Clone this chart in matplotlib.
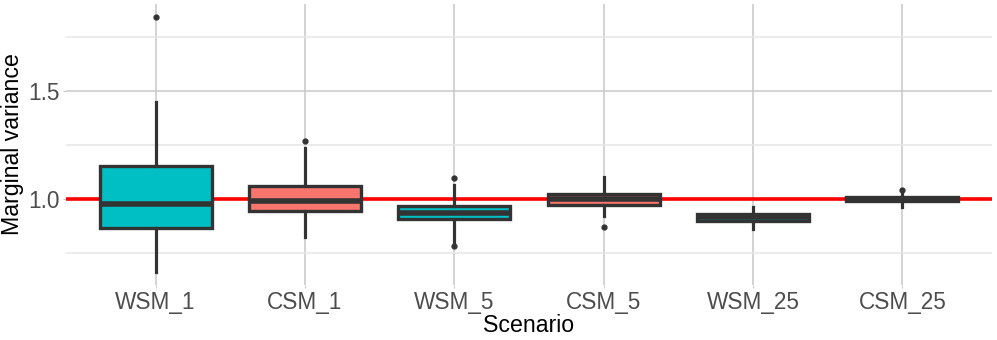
import numpy as np
import matplotlib.pyplot as plt

plt.rcParams['font.family'] = ['Liberation Sans', 'DejaVu Sans']

# values
scenarios = ['WSM_1', 'CSM_1', 'WSM_5', 'CSM_5', 'WSM_25', 'CSM_25']
q1 = [0.868, 0.947, 0.907, 0.975, 0.899, 0.990]
med = [0.977, 0.990, 0.935, 1.000, 0.917, 1.000]
q3 = [1.155, 1.062, 0.970, 1.025, 0.931, 1.008]
whislo = [0.662, 0.824, 0.800, 0.923, 0.862, 0.965]
whishi = [1.449, 1.236, 1.066, 1.103, 0.965, 1.026]
fliers = [[1.843], [1.268], [1.097, 0.784], [0.869], [], [1.042]]
fills = ['#00BFC4', '#F8766D', '#00BFC4', '#F8766D', '#00BFC4', '#F8766D']

stats = []
for i in range(len(scenarios)):
    stats.append(dict(med=med[i], q1=q1[i], q3=q3[i], whislo=whislo[i],
                      whishi=whishi[i], fliers=fliers[i], label=scenarios[i]))

fig = plt.figure(figsize=(9.97, 3.40), dpi=100)
ax = fig.add_axes([0.0662, 0.1618, 0.9288, 0.8262])

edge = '#333333'
ax.axhline(1.0, color='red', lw=2.6, zorder=2)
bp = ax.bxp(stats, positions=np.arange(1, 7), widths=0.75, patch_artist=True,
            showcaps=False,
            boxprops=dict(edgecolor=edge, linewidth=2.4),
            whiskerprops=dict(color=edge, linewidth=2.3),
            medianprops=dict(color=edge, linewidth=4.0, solid_capstyle='butt'),
            flierprops=dict(marker='o', markersize=3.5, markerfacecolor=edge,
                            markeredgecolor=edge),
            zorder=3)
for patch, c in zip(bp['boxes'], fills):
    patch.set_facecolor(c)

ax.set_xlim(0.4, 6.6)
ax.set_ylim(0.603, 1.902)
ax.set_yticks([1.0, 1.5])
ax.set_yticklabels(['1.0', '1.5'])
ax.set_yticks([0.75, 1.25, 1.75], minor=True)
ax.set_xticks(np.arange(1, 7))
ax.set_xticklabels(scenarios)

ax.grid(which='major', color='#c8c8c8', lw=1.1, zorder=0)
ax.grid(which='minor', axis='y', color='#e6e6e6', lw=1.1, zorder=0)
ax.set_axisbelow(True)
for s in ax.spines.values():
    s.set_visible(False)
ax.tick_params(which='major', length=2.5, width=0.8, color='#c8c8c8',
               labelsize=16.3, labelcolor='#4D4D4D', pad=2)
ax.tick_params(which='minor', length=0)

ax.set_xlabel('Scenario', fontsize=16.7, labelpad=0)
ax.set_ylabel('Marginal variance', fontsize=16.7, labelpad=3)

plt.savefig('out.png', dpi=100)
